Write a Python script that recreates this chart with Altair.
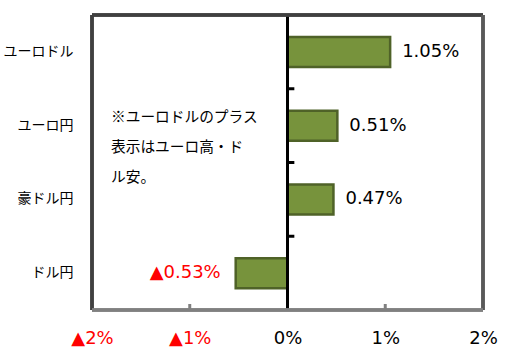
import altair as alt
import pandas as pd

categories = ["ユーロドル", "ユーロ円", "豪ドル円", "ドル円"]
values = [1.05, 0.51, 0.47, -0.53]
x_ticks = [-2, -1, 0, 1, 2]
minor_ticks = [-1, 1]
note_lines = ["※ユーロドルのプラス", "表示はユーロ高・ド", "ル安。"]

def fmt(v):
    return ("▲" if v < 0 else "") + f"{abs(v):.2f}%"

df = pd.DataFrame({"cat": categories, "val": values, "label": [fmt(v) for v in values]})
df_pos = df[df.val >= 0]
df_neg = df[df.val < 0]
df_bound = pd.DataFrame({"cat": categories[1:], "x0": [0] * 3, "x1": [0.07] * 3})
df_minor = pd.DataFrame({"x": minor_ticks})

W, H = 391, 295
NUM_FONT = "DejaVu Sans"
JP_FONT = "Noto Sans CJK JP"

xscale = alt.Scale(domain=[-2, 2], nice=False, zero=False)
yscale = alt.Scale(domain=categories, paddingInner=0, paddingOuter=0)

base = alt.Chart(df)

bars = base.mark_bar(size=30, color="#77933C", stroke="#4F6228", strokeWidth=2.5).encode(
    x=alt.X("val:Q", scale=xscale,
            axis=alt.Axis(values=x_ticks, title=None, grid=False, ticks=False, domain=False,
                          labelExpr="datum.value < 0 ? '▲' + abs(datum.value) + '%' : datum.value + '%'",
                          labelColor=alt.condition("datum.value < 0", alt.value("#FF0000"), alt.value("#000000")),
                          labelFont=NUM_FONT, labelFontSize=18, labelPadding=19, labelBaseline="top",
                          labelFlush=False)),
    y=alt.Y("cat:N", sort=categories, scale=yscale,
            axis=alt.Axis(title=None, ticks=False, domain=False, labelFont=JP_FONT, labelFontSize=14,
                          labelColor="#000000", labelPadding=19)),
)

pos_text = alt.Chart(df_pos).mark_text(align="left", baseline="middle", dx=12, font=NUM_FONT,
                                       fontSize=18, color="#000000").encode(
    x=alt.X("val:Q", scale=xscale), y=alt.Y("cat:N", sort=categories, scale=yscale), text="label:N")

neg_text = alt.Chart(df_neg).mark_text(align="right", baseline="middle", dx=-15, font=NUM_FONT,
                                       fontSize=18, color="#FF0000").encode(
    x=alt.X("val:Q", scale=xscale), y=alt.Y("cat:N", sort=categories, scale=yscale), text="label:N")

zero_line = base.mark_rule(color="#000000", strokeWidth=3).encode(
    x=alt.datum(0, scale=xscale), y=alt.value(0), y2=alt.value(H))

bound_ticks = alt.Chart(df_bound).mark_rule(color="#000000", strokeWidth=3).encode(
    x=alt.X("x0:Q", scale=xscale), x2="x1:Q",
    y=alt.Y("cat:N", sort=categories, scale=yscale, bandPosition=0))

minor = alt.Chart(df_minor).mark_rule(color="#808080", strokeWidth=3).encode(
    x=alt.X("x:Q", scale=xscale), y=alt.value(H - 6), y2=alt.value(H))

frame_top = base.mark_rule(color="#404040", strokeWidth=3).encode(
    x=alt.value(0), x2=alt.value(W), y=alt.value(0))
frame_left = base.mark_rule(color="#404040", strokeWidth=3).encode(
    x=alt.value(0), y=alt.value(0), y2=alt.value(H))
frame_right = base.mark_rule(color="#595959", strokeWidth=3).encode(
    x=alt.value(W), y=alt.value(0), y2=alt.value(H))
frame_bottom = base.mark_rule(color="#808080", strokeWidth=3).encode(
    x=alt.value(0), x2=alt.value(W), y=alt.value(H))

note = alt.Chart(pd.DataFrame({"t": ["\n".join(note_lines)]})).mark_text(
    align="left", baseline="middle", lineBreak="\n", lineHeight=30, font=JP_FONT, fontSize=14.7,
    color="#000000").encode(x=alt.value(19), y=alt.value(103), text="t:N")

chart = alt.layer(
    bars, zero_line, bound_ticks, minor, frame_top, frame_left, frame_right, frame_bottom,
    pos_text, neg_text, note
).properties(
    width=W, height=H,
    padding={"left": 92, "top": 15, "right": 22, "bottom": 41},
    autosize=alt.AutoSizeParams(type="none"),
    background="#FFFFFF",
).configure_view(stroke=None)

chart.save("out.html", embed_options={"renderer": "svg", "actions": False})
